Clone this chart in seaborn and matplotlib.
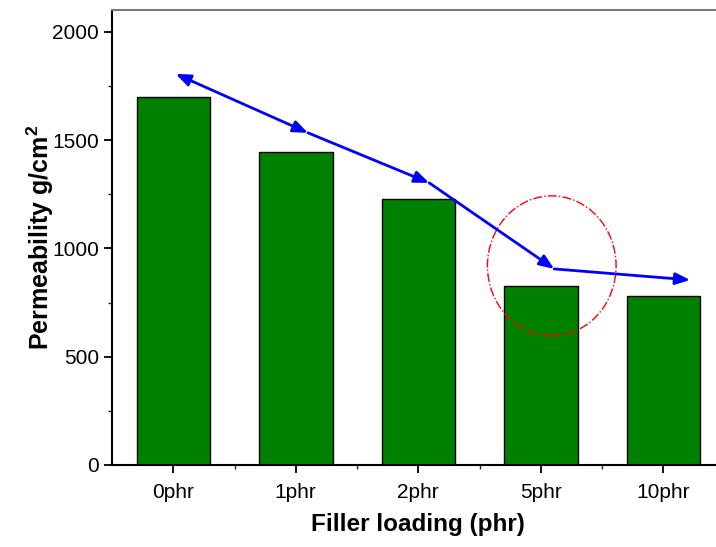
import matplotlib
matplotlib.use("Agg")
import matplotlib.pyplot as plt
from matplotlib.patches import Ellipse
from matplotlib.ticker import MultipleLocator, FixedLocator
import seaborn as sns
import pandas as pd

categories = ["0phr", "1phr", "2phr", "5phr", "10phr"]
permeability = [1700, 1443, 1227, 826, 782]

trend_x = [0.02, 1.10, 2.09, 3.11, 4.22]
trend_y = [1805, 1533, 1302, 905, 854]

circle_center = (3.09, 919)
circle_size = (1.05, 646)

sns.set_style("ticks")
plt.rcParams['font.family'] = ['Liberation Sans', 'DejaVu Sans']
plt.rcParams['mathtext.fontset'] = 'custom'
plt.rcParams['mathtext.bf'] = 'Liberation Sans:bold'
plt.rcParams['mathtext.rm'] = 'Liberation Sans:bold'
plt.rcParams['text.color'] = 'black'
plt.rcParams['axes.labelcolor'] = 'black'

df = pd.DataFrame({"cat": categories, "val": permeability})

fig = plt.figure(figsize=(7.16, 5.47), dpi=100)
ax = fig.add_axes([112/716, 82/547, (724.5-112)/716, 455/547])

sns.barplot(data=df, x="cat", y="val", ax=ax, color="#008000", saturation=1,
            width=0.6, edgecolor="black", linewidth=1)

ax.set_xlim(-0.5, 4.5)
ax.set_ylim(0, 2100)
ax.yaxis.set_major_locator(MultipleLocator(500))
ax.yaxis.set_minor_locator(MultipleLocator(250))
ax.xaxis.set_minor_locator(FixedLocator([0.5, 1.5, 2.5, 3.5]))

for i in range(len(trend_x) - 1):
    style = "<|-|>" if i == 0 else "-|>"
    ax.annotate("", xy=(trend_x[i+1], trend_y[i+1]), xytext=(trend_x[i], trend_y[i]),
                arrowprops=dict(arrowstyle=style + ",head_length=0.55,head_width=0.22",
                                color="blue", lw=2,
                                mutation_scale=16, shrinkA=0, shrinkB=0))

ax.add_patch(Ellipse(circle_center, circle_size[0], circle_size[1], fill=False,
                     edgecolor="red", linestyle="-.", linewidth=1))

ax.set_xlabel("Filler loading (phr)", fontsize=17.5, fontweight="bold", labelpad=8)
ax.set_ylabel(r"Permeability g/cm$^{\mathbf{2}}$", fontsize=18, fontweight="bold", labelpad=-3)

ax.tick_params(axis="both", which="major", direction="out", length=6, width=1.3,
               labelsize=15, colors="black")
ax.tick_params(axis="both", which="minor", direction="out", length=3, width=1)
ax.tick_params(axis="x", which="major", pad=7)

for s in ["left", "bottom"]:
    ax.spines[s].set_color("black")
    ax.spines[s].set_linewidth(1.5)
ax.spines["top"].set_color("#777777")
ax.spines["top"].set_linewidth(1.5)
ax.spines["right"].set_visible(False)

fig.savefig("out.png", dpi=100)
